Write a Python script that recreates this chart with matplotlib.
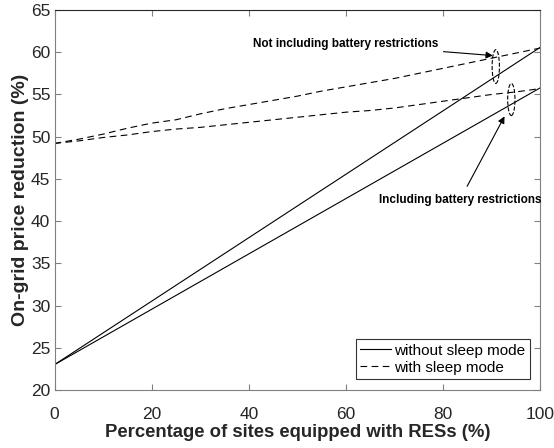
import matplotlib
matplotlib.use("Agg")
import matplotlib.pyplot as plt
from matplotlib.patches import Ellipse

plt.rcParams['font.family'] = ['Liberation Sans', 'DejaVu Sans']

x_solid = [0, 100]
no_sleep_nobatt = [23.0, 60.6]
no_sleep_batt = [23.0, 55.8]

x_dash = [0, 5, 10, 15, 20, 25, 30, 35, 40, 45, 50, 55, 60, 65, 70, 75, 80, 85, 90, 95, 100]
sleep_nobatt = [49.2, 49.7, 50.3, 51.0, 51.6, 52.0, 52.7, 53.3, 53.8, 54.3, 54.8,
                55.4, 55.9, 56.4, 56.9, 57.5, 58.1, 58.7, 59.3, 59.9, 60.5]
sleep_batt = [49.2, 49.5, 49.9, 50.2, 50.6, 50.9, 51.1, 51.4, 51.7, 52.0, 52.3,
              52.6, 52.9, 53.1, 53.4, 53.8, 54.2, 54.6, 55.0, 55.3, 55.7]

xticks = [0, 20, 40, 60, 80, 100]
yticks = [20, 25, 30, 35, 40, 45, 50, 55, 60, 65]

fig = plt.figure(figsize=(5.54, 4.48), dpi=100)
ax = fig.add_axes([0.0984, 0.1295, 0.8772, 0.8482])

lw = 0.8
ax.plot(x_solid, no_sleep_nobatt, '-', color='black', lw=lw, label='without sleep mode')
ax.plot(x_dash, sleep_nobatt, '--', color='black', lw=lw, dashes=(6, 4), label='with sleep mode')
ax.plot(x_solid, no_sleep_batt, '-', color='black', lw=lw)
ax.plot(x_dash, sleep_batt, '--', color='black', lw=lw, dashes=(6, 4))

ax.set_xlim(0, 100)
ax.set_ylim(20, 65)
ax.set_xticks(xticks)
ax.set_yticks(yticks)
ax.tick_params(direction='in', top=True, right=True, labelsize=12.5, length=4,
               width=0.8, colors='#808080', labelcolor='#262626')
ax.tick_params(axis='x', pad=12)
ax.tick_params(axis='y', pad=3)
for s in ['left', 'bottom', 'right']:
    ax.spines[s].set_color('#808080')
ax.spines['top'].set_color('#262626')

ax.set_xlabel('Percentage of sites equipped with RESs (%)', fontsize=13.3, fontweight='bold',
              color='#262626', labelpad=2)
ax.set_ylabel('On-grid price reduction (%)', fontsize=14, fontweight='bold',
              color='#262626', labelpad=1)

# ellipses
ax.add_patch(Ellipse((90.8, 58.3), 1.5, 4.0, fill=False, ls='--', lw=0.8, color='black'))
ax.add_patch(Ellipse((94.0, 54.4), 1.5, 3.8, fill=False, ls='--', lw=0.8, color='black'))

ax.annotate('Not including battery restrictions', xy=(90.2, 59.6), xytext=(78.9, 61.0),
            fontsize=8.5, fontweight='bold', ha='right', va='center',
            arrowprops=dict(arrowstyle='-|>', color='black', lw=0.8, mutation_scale=10,
                            shrinkA=2, shrinkB=0))
ax.annotate('Including battery restrictions', xy=(92.6, 52.4), xytext=(83.4, 42.5),
            fontsize=8.5, fontweight='bold', ha='center', va='center',
            arrowprops=dict(arrowstyle='-|>', color='black', lw=0.8, mutation_scale=10,
                            shrinkA=4, shrinkB=0))

leg = ax.legend(loc='lower right', fontsize=11, frameon=True, fancybox=False,
                edgecolor='black', handlelength=2.0, handletextpad=0.2,
                borderpad=0.3, labelspacing=0.2, borderaxespad=0.7)
leg.get_frame().set_linewidth(0.8)

fig.savefig('out.png', dpi=100)
